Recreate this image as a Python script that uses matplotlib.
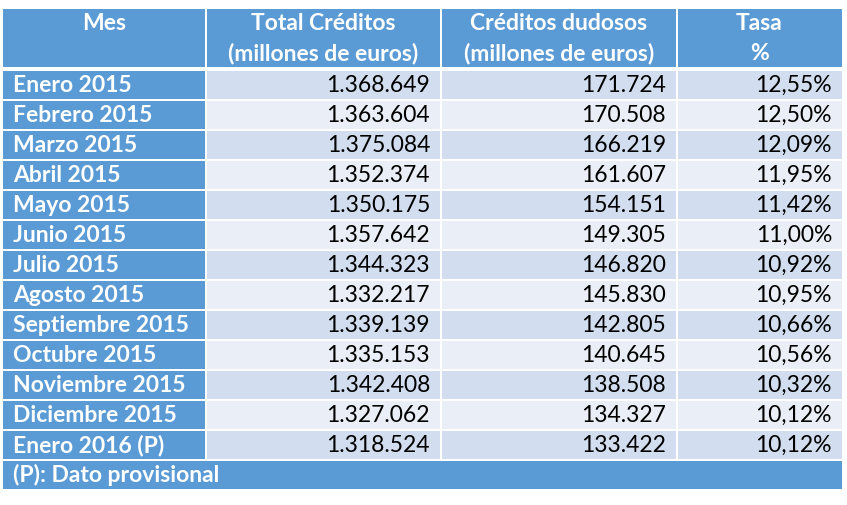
import matplotlib
matplotlib.use("Agg")
import matplotlib.pyplot as plt
from matplotlib.patches import Rectangle

meses = ["Enero 2015", "Febrero 2015", "Marzo 2015", "Abril 2015", "Mayo 2015",
         "Junio 2015", "Julio 2015", "Agosto 2015", "Septiembre 2015",
         "Octubre 2015", "Noviembre 2015", "Diciembre 2015", "Enero 2016 (P)"]
total_creditos = [1368649, 1363604, 1375084, 1352374, 1350175, 1357642, 1344323,
                  1332217, 1339139, 1335153, 1342408, 1327062, 1318524]
creditos_dudosos = [171724, 170508, 166219, 161607, 154151, 149305, 146820,
                    145830, 142805, 140645, 138508, 134327, 133422]
tasa = [12.55, 12.50, 12.09, 11.95, 11.42, 11.00, 10.92, 10.95, 10.66, 10.56,
        10.32, 10.12, 10.12]
headers = [("Mes", ""), ("Total Créditos", "(millones de euros)"),
           ("Créditos dudosos", "(millones de euros)"), ("Tasa", "%")]
nota = "(P): Dato provisional"

def fmt_int(v):
    return f"{v:,}".replace(",", ".")

def fmt_pct(v):
    return f"{v:.2f}".replace(".", ",") + "%"

W, H = 847, 505
fig = plt.figure(figsize=(W / 100, H / 100), dpi=100)
ax = fig.add_axes([0, 0, 1, 1])
ax.set_xlim(0, W)
ax.set_ylim(H, 0)
ax.axis("off")

FONT = "Lato"
FS = 16.5
blue = "#5B9BD5"
row_a = "#D2DEEF"
row_b = "#EAEFF7"

col_edges = [3, 206, 441, 677, 842]
gap = 2
top, head_bot = 9, 67
row_top, row_h = 70, 30

# header
for i in range(4):
    x0, x1 = col_edges[i], col_edges[i + 1]
    x0p = x0 + (gap / 2 if i > 0 else 0)
    x1p = x1 - (gap / 2 if i < 3 else 0)
    ax.add_patch(Rectangle((x0p, top), x1p - x0p, head_bot - top, color=blue, lw=0))
    cx = (x0 + x1) / 2
    l1, l2 = headers[i]
    ax.text(cx, 23, l1, ha="center", va="center", color="white",
            fontsize=FS, fontweight="bold", family=FONT)
    if l2:
        ax.text(cx, 53, l2, ha="center", va="center", color="white",
                fontsize=FS, fontweight="bold", family=FONT)

# rows
for r in range(len(meses)):
    y0 = row_top + r * row_h
    cy = y0 + row_h / 2
    fill = row_a if r % 2 == 0 else row_b
    for i in range(4):
        x0, x1 = col_edges[i], col_edges[i + 1]
        x0p = x0 + (gap / 2 if i > 0 else 0)
        x1p = x1 - (gap / 2 if i < 3 else 0)
        ax.add_patch(Rectangle((x0p, y0 + 1), x1p - x0p, row_h - 2,
                               color=blue if i == 0 else fill, lw=0))
    ax.text(13, cy, meses[r], ha="left", va="center", color="white",
            fontsize=FS, fontweight="bold", family=FONT)
    ax.text(col_edges[2] - 11, cy, fmt_int(total_creditos[r]), ha="right",
            va="center", color="black", fontsize=FS, family=FONT)
    ax.text(col_edges[3] - 11, cy, fmt_int(creditos_dudosos[r]), ha="right",
            va="center", color="black", fontsize=FS, family=FONT)
    ax.text(col_edges[4] - 10, cy, fmt_pct(tasa[r]), ha="right",
            va="center", color="black", fontsize=FS, family=FONT)

# footnote
y0 = row_top + len(meses) * row_h
ax.add_patch(Rectangle((col_edges[0], y0 + 1), col_edges[4] - col_edges[0], 28,
                       color=blue, lw=0))
ax.text(13, y0 + 15, nota, ha="left", va="center", color="white",
        fontsize=FS, fontweight="bold", family=FONT)

fig.savefig("out.png", dpi=100, facecolor="white")
